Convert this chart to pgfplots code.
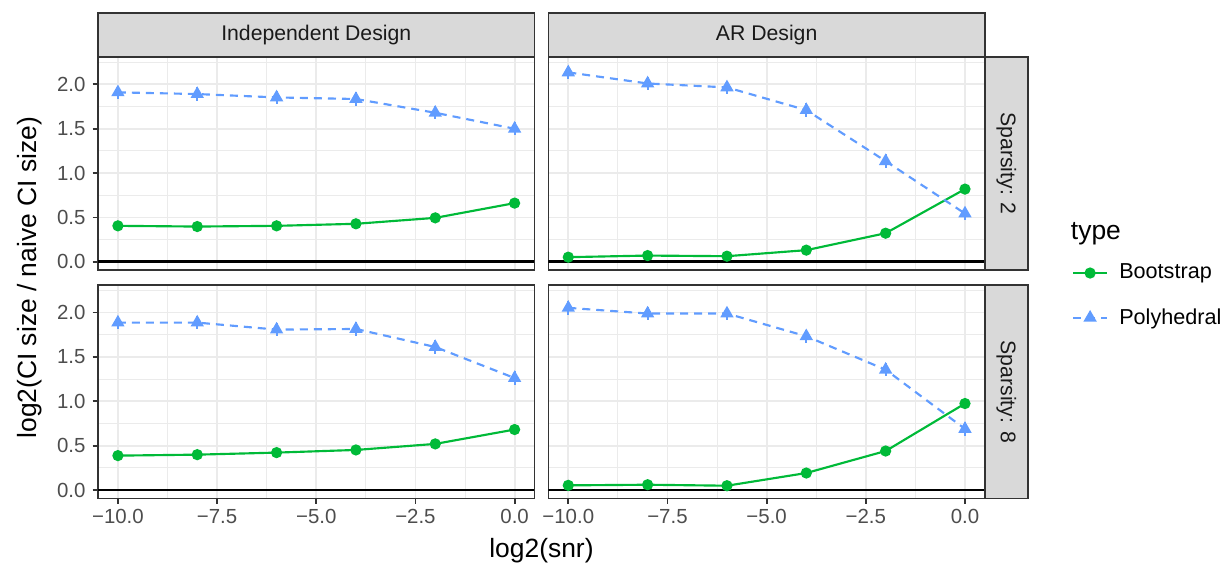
\documentclass[border=0pt]{standalone}
\usepackage{fontspec}
\setmainfont{Liberation Sans}
\usepackage{pgfplots}
\usepackage{pgfplotstable}
\pgfplotsset{compat=1.18}
\usepgfplotslibrary{groupplots}
\usetikzlibrary{calc}

\definecolor{boot}{HTML}{00BA38}
\definecolor{poly}{HTML}{619CFF}
\definecolor{gridc}{HTML}{EBEBEB}
\definecolor{framec}{HTML}{333333}
\definecolor{stripfill}{HTML}{D9D9D9}
\definecolor{ticklab}{HTML}{4D4D4D}
\definecolor{striptext}{HTML}{1A1A1A}

% one table per panel: x, Bootstrap, Polyhedral, error half-width
\pgfplotstableread{
x boot poly e
-10 0.406 1.910 0.075
-8 0.398 1.891 0.075
-6 0.406 1.853 0.075
-4 0.429 1.835 0.075
-2 0.496 1.680 0.075
0 0.662 1.500 0.075
}\indtwo
\pgfplotstableread{
x boot poly e
-10 0.053 2.135 0.075
-8 0.071 2.010 0.075
-6 0.064 1.966 0.075
-4 0.132 1.710 0.075
-2 0.323 1.135 0.075
0 0.820 0.545 0.075
}\artwo
\pgfplotstableread{
x boot poly e
-10 0.388 1.887 0.075
-8 0.399 1.887 0.075
-6 0.422 1.808 0.075
-4 0.452 1.815 0.075
-2 0.520 1.612 0.075
0 0.682 1.262 0.075
}\indeight
\pgfplotstableread{
x boot poly e
-10 0.053 2.053 0.075
-8 0.060 1.989 0.075
-6 0.049 1.989 0.075
-4 0.192 1.733 0.075
-2 0.440 1.356 0.075
0 0.975 0.689 0.075
}\areight

\newcommand{\tickfs}{\fontsize{10.2}{12}\selectfont}
\newcommand{\stripfs}{\fontsize{10.6}{12.5}\selectfont}
\newcommand{\legfs}{\fontsize{10.8}{12.5}\selectfont}
\newcommand{\titlefs}{\fontsize{13.2}{15.5}\selectfont}

\pgfplotsset{
  bootline/.style={boot, line width=1.07pt, mark=*, mark size=2.25pt},
  polyline/.style={poly, line width=1.07pt, dash pattern=on 4pt off 3pt,
    mark=triangle*, mark size=2.8pt, mark options={solid},
    error bars/.cd, y dir=both, y explicit, error mark=none,
    error bar style={solid, line width=1pt}},
  zeroline/.style={black, line width=1.4pt, forget plot},
}

\begin{document}
\begin{tikzpicture}
\begin{groupplot}[
  group style={group size=2 by 2, horizontal sep=7pt, vertical sep=7.5pt,
    x descriptions at=edge bottom, y descriptions at=edge left},
  scale only axis, width=218pt, height=106.5pt,
  xmin=-10.5, xmax=0.5, ymin=-0.094, ymax=2.308,
  xtick={-10,-7.5,-5,-2.5,0}, xticklabels={−10.0,−7.5,−5.0,−2.5,0.0},
  minor xtick={-8.75,-6.25,-3.75,-1.25},
  ytick={0,0.5,1,1.5,2}, yticklabels={0.0,0.5,1.0,1.5,2.0},
  minor ytick={0.25,0.75,1.25,1.75,2.25},
  grid=both,
  major grid style={gridc, line width=0.9pt},
  minor grid style={gridc, line width=0.45pt},
  axis line style={framec, line width=0.9pt},
  tick align=outside, major tick length=2.75pt, minor tick length=0pt,
  xtick pos=bottom, ytick pos=left,
  tick style={framec, line width=0.9pt},
  tick label style={font=\tickfs, text=ticklab},
  xticklabel style={yshift=1pt},
]
\nextgroupplot[xtick style={draw=none}]
\addplot[bootline] table[x=x, y=boot] {\indtwo};
\addplot[polyline] table[x=x, y=poly, y error=e] {\indtwo};
\addplot[zeroline] coordinates {(-10.5,0) (0.5,0)};

\nextgroupplot[xtick style={draw=none}, ytick style={draw=none},
  legend style={at={(axis description cs:1.185,-0.119)}, anchor=west,
    draw=none, fill=none, font=\legfs, row sep=9.2pt,
    /tikz/every odd column/.append style={column sep=3.5pt}},
  legend cell align=left]
\addplot[bootline] table[x=x, y=boot] {\artwo};
\addlegendentry{Bootstrap}
\addplot[polyline] table[x=x, y=poly, y error=e] {\artwo};
\addlegendentry{Polyhedral}
\addplot[zeroline] coordinates {(-10.5,0) (0.5,0)};

\nextgroupplot
\addplot[bootline] table[x=x, y=boot] {\indeight};
\addplot[polyline] table[x=x, y=poly, y error=e] {\indeight};
\addplot[zeroline] coordinates {(-10.5,0) (0.5,0)};

\nextgroupplot[ytick style={draw=none}]
\addplot[bootline] table[x=x, y=boot] {\areight};
\addplot[polyline] table[x=x, y=poly, y error=e] {\areight};
\addplot[zeroline] coordinates {(-10.5,0) (0.5,0)};
\end{groupplot}

% facet strips
\draw[framec, fill=stripfill, line width=0.9pt] (group c1r1.north west) rectangle ($(group c1r1.north east)+(0,22pt)$);
\node[font=\stripfs, text=striptext] at ($(group c1r1.north)+(0,11pt)$) {Independent Design};
\draw[framec, fill=stripfill, line width=0.9pt] (group c2r1.north west) rectangle ($(group c2r1.north east)+(0,22pt)$);
\node[font=\stripfs, text=striptext] at ($(group c2r1.north)+(0,11pt)$) {AR Design};
\draw[framec, fill=stripfill, line width=0.9pt] (group c2r1.north east) rectangle ($(group c2r1.south east)+(21.5pt,0)$);
\node[font=\stripfs, text=striptext, rotate=-90] at ($(group c2r1.east)+(10.75pt,0)$) {Sparsity: 2};
\draw[framec, fill=stripfill, line width=0.9pt] (group c2r2.north east) rectangle ($(group c2r2.south east)+(21.5pt,0)$);
\node[font=\stripfs, text=striptext, rotate=-90] at ($(group c2r2.east)+(10.75pt,0)$) {Sparsity: 8};

% axis titles
\node[font=\titlefs, rotate=90] at ($($(group c1r1.north west)!0.5!(group c1r2.south west)$)+(-34pt,0)$) {log2(CI size / naive CI size)};
\node[font=\titlefs] at ($($(group c1r2.south west)!0.5!(group c2r2.south east)$)+(0,-26pt)$) {log2(snr)};

% legend title
\node[font=\titlefs, anchor=west] at ($(group c2r1.south east)+(39.5pt,18pt)$) {type};

% page size fixed to the reference margins
\pgfresetboundingbox
\path ($(group c1r1.north west)+(-49pt,28.5pt)$) rectangle ($(group c2r2.south east)+(120pt,-33.5pt)$);
\end{tikzpicture}
\end{document}
